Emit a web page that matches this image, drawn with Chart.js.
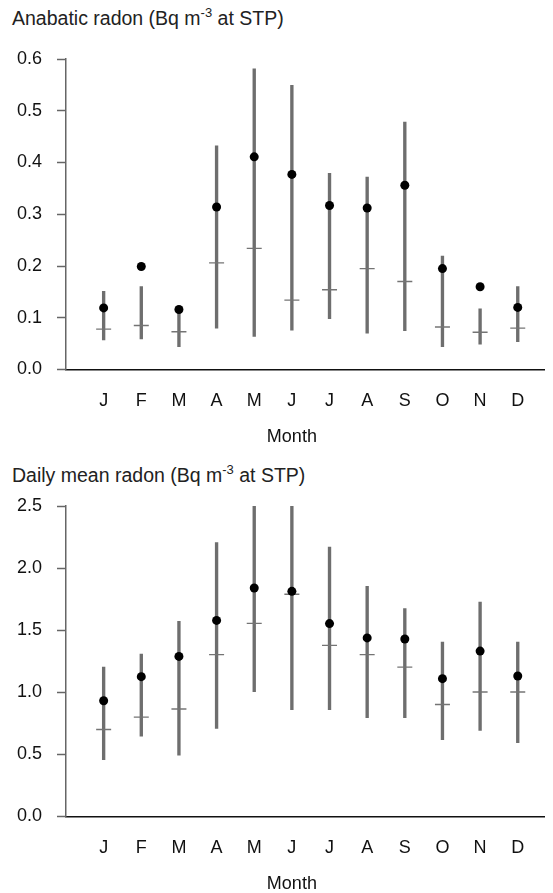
<!DOCTYPE html>
<html lang="en">
<head>
<meta charset="UTF-8">
<title>Radon by month</title>
<script src="https://cdn.jsdelivr.net/npm/chart.js"></script>
<style>
    body {
        margin: 0;
        background: #fff;
        width: 553px;
        height: 893px;
        position: relative;
        overflow: hidden;
        font-family: "Liberation Sans", Arial, sans-serif;
    }

    .panel-title {
        position: absolute;
        left: 12px;
        font-size: 19.5px;
        line-height: 20px;
        color: #222;
        white-space: nowrap;
    }

    .panel-title sup {
        font-size: 13px;
        line-height: 0;
        position: relative;
        top: -1px;
    }

    .chart-box {
        position: absolute;
        left: 0;
        width: 553px;
        height: 446px;
    }
</style>
</head>
<body>
    <div class="panel-title" style="top: 8px;">Anabatic radon (Bq m<sup>-3</sup> at STP)</div>
    <div class="chart-box" style="top: 0;"><canvas id="anabaticChart"></canvas></div>

    <div class="panel-title" style="top: 465px;">Daily mean radon (Bq m<sup>-3</sup> at STP)</div>
    <div class="chart-box" style="top: 447px;"><canvas id="dailyChart"></canvas></div>

<script>
// meses
const months = ['J', 'F', 'M', 'A', 'M', 'J', 'J', 'A', 'S', 'O', 'N', 'D'];

// Anabatic radon
const anaMean   = [0.119, 0.199, 0.116, 0.314, 0.411, 0.377, 0.317, 0.312, 0.356, 0.195, 0.160, 0.120];
const anaMedian = [0.078, 0.085, 0.073, 0.206, 0.234, 0.134, 0.154, 0.195, 0.170, 0.082, 0.072, 0.080];
const anaLow    = [0.057, 0.059, 0.044, 0.080, 0.064, 0.076, 0.098, 0.070, 0.075, 0.044, 0.049, 0.054];
const anaHigh   = [0.151, 0.160, 0.110, 0.432, 0.581, 0.549, 0.379, 0.372, 0.478, 0.219, 0.117, 0.160];
const anaTicks  = [0.0, 0.1, 0.2, 0.3, 0.4, 0.5, 0.6];

// Daily mean radon
const dailyMean   = [0.932, 1.126, 1.289, 1.579, 1.840, 1.813, 1.553, 1.438, 1.429, 1.110, 1.332, 1.131];
const dailyMedian = [0.700, 0.800, 0.865, 1.303, 1.555, 1.789, 1.378, 1.303, 1.203, 0.902, 1.002, 1.002];
const dailyLow    = [0.457, 0.647, 0.494, 0.709, 1.005, 0.860, 0.860, 0.795, 0.795, 0.618, 0.693, 0.594];
const dailyHigh   = [1.203, 1.308, 1.571, 2.205, 2.500, 2.500, 2.170, 1.853, 1.674, 1.405, 1.727, 1.405];
const dailyTicks  = [0.0, 0.5, 1.0, 1.5, 2.0, 2.5];

const FONT = "'Liberation Sans', Arial, sans-serif";

// "Month" under the axis
const monthTitle = {
    id: 'monthTitle',
    afterDraw(chart) {
        const x = chart.scales.x;
        const ctx = chart.ctx;
        ctx.save();
        ctx.font = '18px ' + FONT;
        ctx.fillStyle = '#111';
        ctx.textAlign = 'center';
        ctx.textBaseline = 'middle';
        ctx.fillText('Month', x.getPixelForValue(6), x.top + 68);
        ctx.restore();
    }
};

function makeChart(canvasId, means, medians, lows, highs, yTicks) {
    const ctx = document.getElementById(canvasId).getContext('2d');
    return new Chart(ctx, {
        type: 'bar',
        data: {
            datasets: [
                {
                    type: 'line',
                    label: 'mean',
                    data: means.map((v, i) => ({ x: i + 1, y: v })),
                    showLine: false,
                    pointStyle: 'circle',
                    pointRadius: 4.5,
                    pointBackgroundColor: '#000',
                    pointBorderWidth: 0,
                    order: 0
                },
                {
                    type: 'line',
                    label: 'median',
                    data: medians.map((v, i) => ({ x: i + 1, y: v })),
                    showLine: false,
                    pointStyle: 'line',
                    pointRadius: 7.5,
                    pointBorderColor: '#747474',
                    pointBorderWidth: 1.4,
                    order: 1
                },
                {
                    label: 'range',
                    data: lows.map((v, i) => ({ x: i + 1, y: [v, highs[i]] })),
                    backgroundColor: '#6e6e6e',
                    borderWidth: 0,
                    barThickness: 2.7,
                    order: 2
                }
            ]
        },
        options: {
            responsive: false,
            animation: false,
            events: [],
            layout: { padding: { top: 59, left: 0, right: 0, bottom: 0 } },
            plugins: {
                legend: { display: false },
                tooltip: { enabled: false },
                title: { display: false }
            },
            scales: {
                x: {
                    type: 'linear',
                    offset: false,
                    min: 0,
                    max: 12.7,
                    afterBuildTicks: s => { s.ticks = months.map((m, i) => ({ value: i + 1 })); },
                    afterFit: s => { s.height = 76.5; },
                    ticks: {
                        callback: (v, i) => months[i],
                        font: { size: 18, family: FONT },
                        color: '#111',
                        padding: 21,
                        maxRotation: 0,
                        autoSkip: false
                    },
                    grid: { display: false, drawTicks: false },
                    border: { color: '#111', width: 1.5 }
                },
                y: {
                    min: yTicks[0],
                    max: yTicks[yTicks.length - 1],
                    afterBuildTicks: s => { s.ticks = yTicks.map(v => ({ value: v })); },
                    afterFit: s => { s.width = 66; },
                    ticks: {
                        callback: v => v.toFixed(1),
                        font: { size: 18, family: FONT },
                        color: '#111',
                        padding: 15
                    },
                    grid: { drawOnChartArea: false, tickLength: 9, tickColor: '#666', tickWidth: 1.5 },
                    border: { color: '#666', width: 1.5 }
                }
            }
        },
        plugins: [monthTitle]
    });
}

document.addEventListener('DOMContentLoaded', function () {
    for (const id of ['anabaticChart', 'dailyChart']) {
        const c = document.getElementById(id);
        c.width = 553;
        c.height = 446;
    }
    makeChart('anabaticChart', anaMean, anaMedian, anaLow, anaHigh, anaTicks);
    makeChart('dailyChart', dailyMean, dailyMedian, dailyLow, dailyHigh, dailyTicks);
});
</script>
</body>
</html>
